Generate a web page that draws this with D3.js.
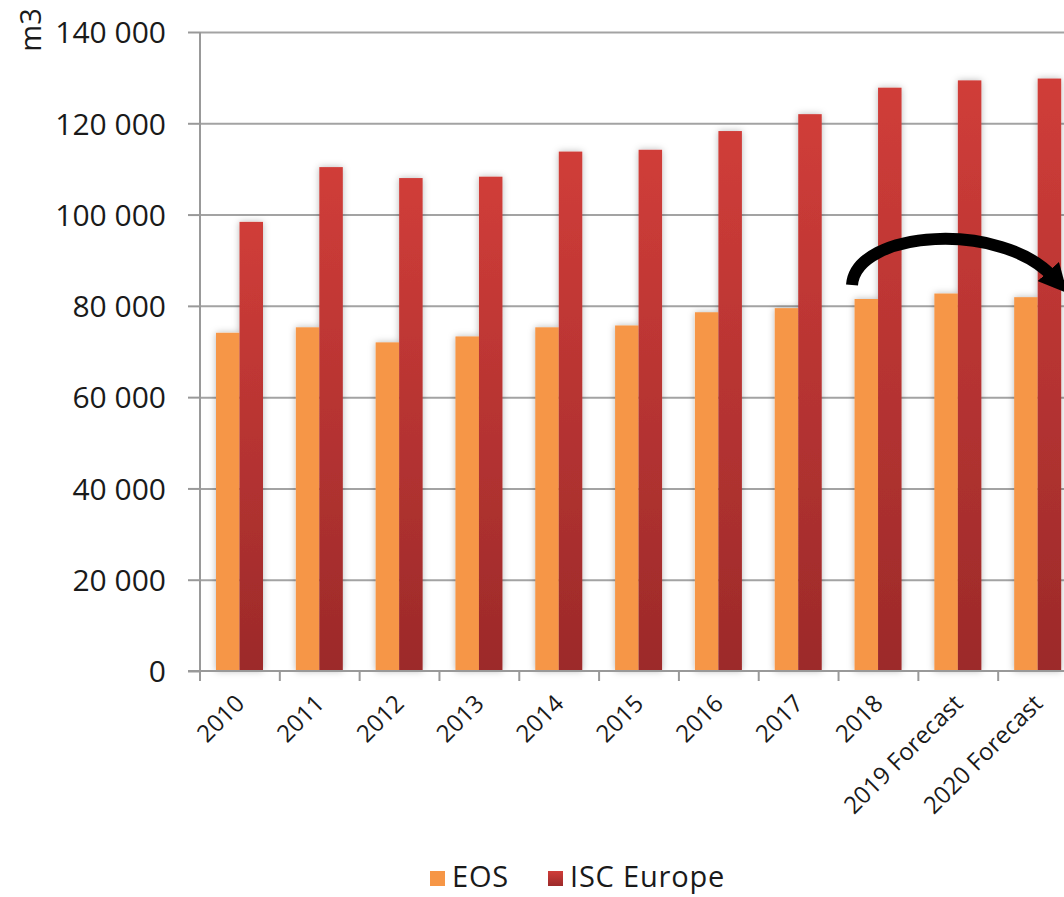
<!DOCTYPE html>
<html>
<head>
<meta charset="utf-8">
<title>EOS vs ISC Europe</title>
<style>
  body { margin: 0; background: #fff; }
  svg { display: block; font-family: "Open Sans", sans-serif; }
  .grid line { stroke: #a3a3a3; stroke-width: 2px; }
  .axis path, .axis line { stroke: #999; stroke-width: 2px; }
  .axis text { fill: #1a1a1a; }
</style>
</head>
<body>
<script src="https://cdn.jsdelivr.net/npm/d3@7"></script>
<script>

var width = 1064,
    height = 897;

// data
var years = ["2010", "2011", "2012", "2013", "2014", "2015", "2016", "2017", "2018", "2019 Forecast", "2020 Forecast"];
var eos = [74100, 75300, 72000, 73300, 75300, 75700, 78600, 79500, 81500, 82700, 81900];
var iscEurope = [98400, 110400, 108000, 108300, 113800, 114200, 118300, 122000, 127800, 129400, 129800];
var seriesNames = ["EOS", "ISC Europe"];
var yTicks = [0, 20000, 40000, 60000, 80000, 100000, 120000, 140000];

var svg = d3.select("body").append("svg")
    .attr("width", width)
    .attr("height", height);

var defs = svg.append("defs");

var redGrad = defs.append("linearGradient")
    .attr("id", "red-grad")
    .attr("x1", 0).attr("y1", 0).attr("x2", 0).attr("y2", 1);
redGrad.append("stop").attr("offset", "0%").attr("stop-color", "#d03d39");
redGrad.append("stop").attr("offset", "100%").attr("stop-color", "#9c2a2a");

var shadow = defs.append("filter")
    .attr("id", "bar-shadow")
    .attr("x", "-50%").attr("y", "-5%").attr("width", "200%").attr("height", "110%");
shadow.append("feDropShadow")
    .attr("dx", 0).attr("dy", 0)
    .attr("stdDeviation", 3.5)
    .attr("flood-color", "#000")
    .attr("flood-opacity", 0.28);

var marker = defs.append("marker")
    .attr("id", "arrow-head")
    .attr("viewBox", "0 0 10 10")
    .attr("refX", 3).attr("refY", 5)
    .attr("markerWidth", 2.4).attr("markerHeight", 2.4)
    .attr("orient", "auto");
marker.append("path").attr("d", "M0,0 L10,5 L0,10 z").attr("fill", "#000");

// scales
var y = d3.scaleLinear()
    .domain([0, 140000])
    .range([671, 32]);

var x = d3.scaleBand()
    .domain(years)
    .range([200, 1078]);

var x1 = d3.scaleBand()
    .domain(seriesNames)
    .range([16, 63]);

var colour = d3.scaleOrdinal()
    .domain(seriesNames)
    .range(["#f69646", "url(#red-grad)"]);

// gridlines
svg.append("g")
    .attr("class", "grid")
    .attr("transform", "translate(200,0)")
    .call(d3.axisLeft(y).tickValues(yTicks).tickSize(-width).tickFormat(""))
    .call(function (g) { g.select(".domain").remove(); })
    .call(function (g) { g.selectAll(".tick").filter(function (d) { return d === 0; }).remove(); });

// bars
var rows = years.map(function (yr, i) {
    return { year: yr, values: [ { key: "EOS", value: eos[i] }, { key: "ISC Europe", value: iscEurope[i] } ] };
});

var groups = svg.append("g")
    .selectAll("g")
    .data(rows)
    .enter().append("g")
    .attr("transform", function (d) { return "translate(" + x(d.year) + ",0)"; })
    .attr("filter", "url(#bar-shadow)");

groups.selectAll("rect")
    .data(function (d) { return d.values; })
    .enter().append("rect")
    .attr("x", function (d) { return x1(d.key); })
    .attr("width", x1.bandwidth())
    .attr("y", function (d) { return y(d.value); })
    .attr("height", function (d) { return y(0) - y(d.value); })
    .attr("fill", function (d) { return colour(d.key); });

// y axis
var yAxis = svg.append("g")
    .attr("class", "axis")
    .attr("transform", "translate(200,0)")
    .call(d3.axisLeft(y).tickValues(yTicks).tickSize(12).tickPadding(22)
        .tickFormat(function (d) { return d3.format(",")(d).replace(/,/g, " "); }))
    .attr("font-family", null)
    .attr("font-size", null);
yAxis.select(".domain").attr("d", "M0," + y(140000) + "V" + y(0));
yAxis.selectAll("text").attr("font-size", "30px").attr("dy", "0.36em");

// x axis
var xAxis = svg.append("g")
    .attr("class", "axis")
    .attr("transform", "translate(0," + y(0) + ")");
xAxis.append("line")
    .attr("x1", 188).attr("x2", width)
    .attr("y1", 0).attr("y2", 0);
xAxis.selectAll(".tk")
    .data(years)
    .enter().append("line")
    .attr("class", "tk")
    .attr("x1", function (d) { return x(d); })
    .attr("x2", function (d) { return x(d); })
    .attr("y1", 0).attr("y2", 10);
xAxis.selectAll(".lbl")
    .data(years)
    .enter().append("text")
    .attr("class", "lbl")
    .attr("text-anchor", "end")
    .attr("font-size", "24px")
    .attr("transform", function (d) {
        return "translate(" + (x(d) + x.bandwidth() / 2 + 6) + ",34) rotate(-45)";
    })
    .text(function (d) { return d; });

// y axis title
svg.append("text")
    .attr("transform", "translate(41,30) rotate(-90)")
    .attr("text-anchor", "middle")
    .attr("font-size", "29px")
    .attr("fill", "#1a1a1a")
    .text("m3");

// curved arrow from 2018 to 2020
svg.append("path")
    .attr("d", "M852,285 C856,230 1002,220 1054,278")
    .attr("fill", "none")
    .attr("stroke", "#000")
    .attr("stroke-width", 12)
    .attr("marker-end", "url(#arrow-head)");

// legend
var legend = svg.append("g").attr("transform", "translate(430,877)");
var legendX = [0, 118];
seriesNames.forEach(function (name, i) {
    var item = legend.append("g").attr("transform", "translate(" + legendX[i] + ",0)");
    item.append("rect")
        .attr("x", 0).attr("y", -6)
        .attr("width", 15).attr("height", 15)
        .attr("fill", colour(name));
    item.append("text")
        .attr("x", 22).attr("y", 0)
        .attr("dy", "0.36em")
        .attr("font-size", "29px")
        .attr("letter-spacing", "0.8px")
        .attr("fill", "#1a1a1a")
        .text(name);
});

</script>
</body>
</html>
